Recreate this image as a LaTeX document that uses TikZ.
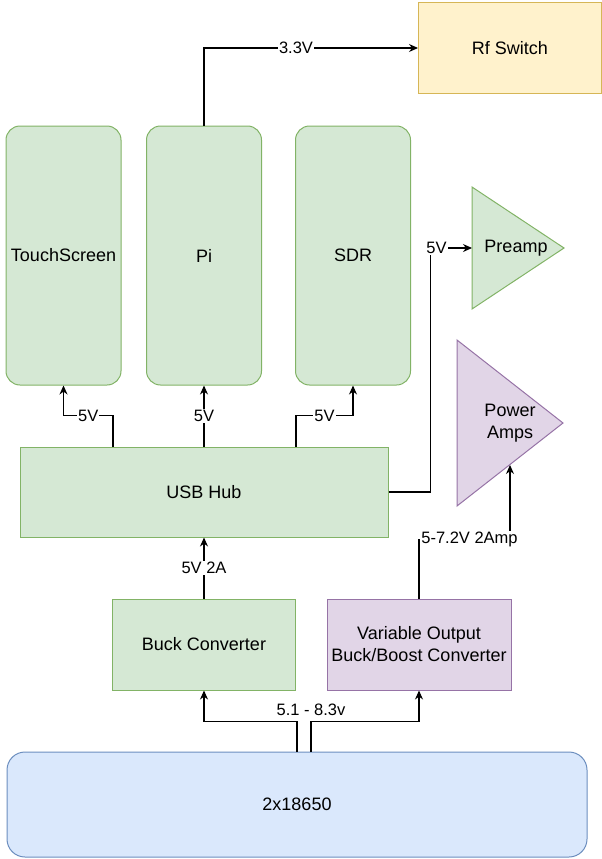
\documentclass[tikz,border=0pt]{standalone}
\usepackage{fontspec}
\setmainfont{Liberation Sans}
\usetikzlibrary{arrows.meta}

\definecolor{greenfill}{HTML}{D5E8D4}
\definecolor{greenline}{HTML}{82B366}
\definecolor{yellowfill}{HTML}{FFF2CC}
\definecolor{yellowline}{HTML}{D6B656}
\definecolor{purplefill}{HTML}{E1D5E7}
\definecolor{purpleline}{HTML}{9673A6}
\definecolor{bluefill}{HTML}{DAE8FC}
\definecolor{blueline}{HTML}{6C8EBF}

\begin{document}
\begin{tikzpicture}[x=1pt,y=-1pt,
    box/.style={line width=1pt,inner sep=0pt,align=center,font=\fontsize{18}{22}\selectfont},
    greenbox/.style={box,draw=greenline,fill=greenfill},
    purplebox/.style={box,draw=purpleline,fill=purplefill},
    yellowbox/.style={box,draw=yellowline,fill=yellowfill},
    bluebox/.style={box,draw=blueline,fill=bluefill,rounded corners=18pt},
    board/.style={greenbox,rounded corners=14pt,minimum width=115pt,minimum height=259pt},
    amptext/.style={inner sep=0pt,align=center,font=\fontsize{18}{22}\selectfont},
    wire/.style={draw=black,line width=1.2pt,-{Stealth[length=9pt,width=8pt]}},
    lbl/.style={fill=white,inner sep=1pt,font=\fontsize{16.5}{20}\selectfont}]

    \useasboundingbox (0,0) rectangle (602,859);

    % boards
    \node[yellowbox,minimum width=183pt,minimum height=90pt] (rf) at (510,48) {Rf Switch};
    \node[board] (touch) at (63.5,255.5) {TouchScreen};
    \node[board] (pi) at (204,255.5) {Pi};
    \node[board] (sdr) at (353,255.5) {SDR};
    \node[greenbox,minimum width=368pt,minimum height=90pt] (hub) at (204,492) {USB Hub};
    \node[greenbox,minimum width=183pt,minimum height=91pt] (buck) at (204,644.5) {Buck Converter};
    \node[purplebox,minimum width=184pt,minimum height=91pt] (varconv) at (419,644.5) {Variable Output\\Buck/Boost Converter};
    \node[bluebox,minimum width=580pt,minimum height=105pt] (batt) at (297,804.5) {2x18650};

    % amplifiers
    \draw[line width=1pt,draw=greenline,fill=greenfill] (472,187) -- (564,248) -- (472,309) -- cycle;
    \node[amptext] (preamp) at (516,248) {Preamp};
    \coordinate (preamp-in) at (472,248);
    \draw[line width=1pt,draw=purpleline,fill=purplefill] (457,340) -- (563,423) -- (457,506) -- cycle;
    \node[amptext] (pwramps) at (510,423) {Power\\Amps};
    \coordinate (pwramps-in) at (510,465);

    % power lines
    \draw[wire] (pi.north) |- node[lbl,pos=0.715] {3.3V} (rf.west);
    \draw[wire] ([xshift=-91pt]hub.north) -- ++(0,-31) -| node[lbl,pos=0.25] {5V} (touch.south);
    \draw[wire] (hub.north) -- node[lbl] {5V} (pi.south);
    \draw[wire] ([xshift=92pt]hub.north) -- ++(0,-31) -| node[lbl,pos=0.25] {5V} (sdr.south);
    \draw[wire] (hub.east) -- ++(42,0) |- node[lbl,pos=0.5,xshift=6pt] {5V} (preamp-in);
    \draw[wire] (buck.north) -- node[lbl] {5V 2A} (hub.south);
    \draw[wire] (varconv.north) -- ++(0,-59) -| node[lbl,pos=0.25,xshift=5pt] {5-7.2V 2Amp} (pwramps-in);
    \draw[wire] (batt.north) -- ++(0,-30) -| (buck.south);
    \draw[wire] ([xshift=14pt]batt.north) -- ++(0,-30) node[lbl,above=4pt] {5.1 - 8.3v} -| (varconv.south);
\end{tikzpicture}
\end{document}
